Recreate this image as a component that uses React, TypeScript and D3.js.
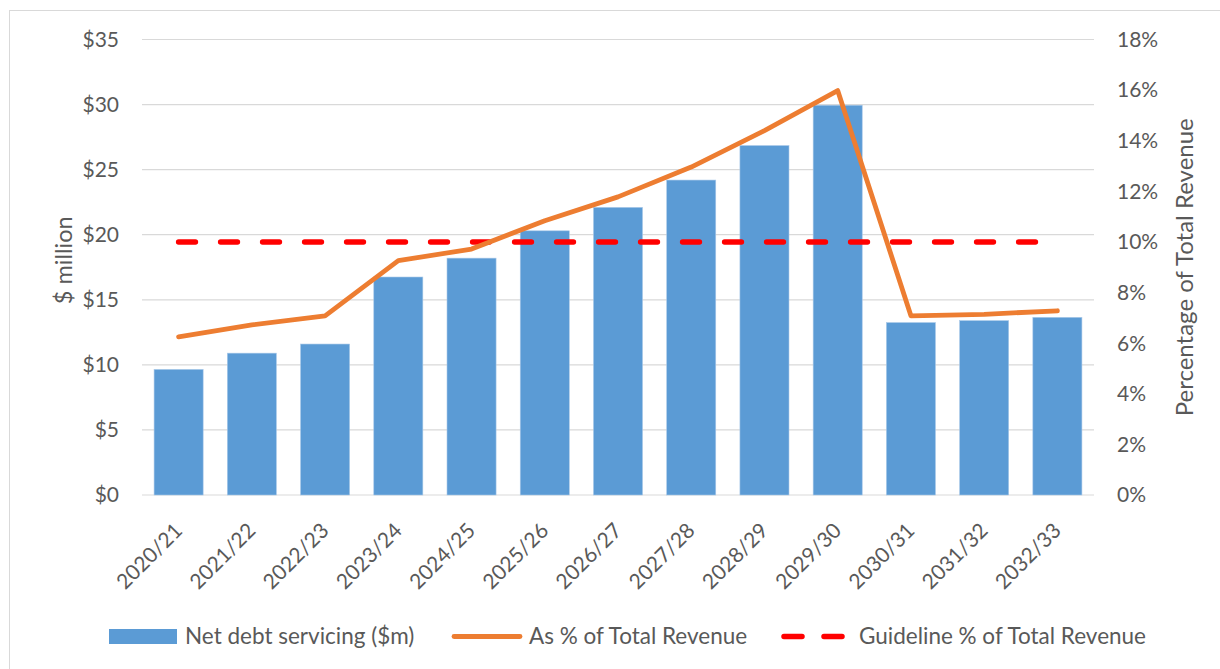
import React from "react";
import * as d3 from "d3";

const categories = ["2020/21","2021/22","2022/23","2023/24","2024/25","2025/26","2026/27","2027/28","2028/29","2029/30","2030/31","2031/32","2032/33"];
const netDebt = [9.65, 10.9, 11.6, 16.75, 18.2, 20.3, 22.1, 24.2, 26.85, 29.95, 13.25, 13.4, 13.65];
const pctRevenue = [6.25, 6.72, 7.08, 9.26, 9.72, 10.84, 11.78, 12.96, 14.4, 15.98, 7.08, 7.14, 7.28];
const guideline = [10,10,10,10,10,10,10,10,10,10,10,10,10];
const leftTicks = [0,5,10,15,20,25,30,35];
const rightTicks = [0,2,4,6,8,10,12,14,16,18];

const W = 1220, H = 669;
const plot = { left: 142, right: 1094, top: 39.5, bottom: 495 };
const FONT = "Lato, 'Open Sans', sans-serif";
const TXT = "#595959";

export default function App() {
  const x = d3.scaleBand<string>().domain(categories).range([plot.left, plot.right]).paddingInner(0.33).paddingOuter(0.165);
  const yL = d3.scaleLinear().domain([0, 35]).range([plot.bottom, plot.top]);
  const yR = d3.scaleLinear().domain([0, 18]).range([plot.bottom, plot.top]);
  const cx = (c: string) => (x(c) as number) + x.bandwidth() / 2;
  const line = d3.line<number>().x((_, i) => cx(categories[i])).y((d) => yR(d));

  return (
    <svg width={W} height={H} style={{ position: "absolute", left: 0, top: 0, display: "block" }} fontFamily={FONT}>
      <rect x={0} y={0} width={W} height={H} fill="#fff" />
      <rect x={9.5} y={10.5} width={W + 10} height={H} fill="none" stroke="#d9d9d9" strokeWidth={1} />
      {leftTicks.map((t) => (
        <line key={"g" + t} x1={plot.left} x2={plot.right} y1={yL(t)} y2={yL(t)} stroke="#d9d9d9" strokeWidth={1.2} />
      ))}
      {leftTicks.map((t) => (
        <text key={"l" + t} x={119} y={yL(t)} dy="0.35em" textAnchor="end" fontSize={21} fill={TXT}>{"$" + t}</text>
      ))}
      {rightTicks.map((t) => (
        <text key={"r" + t} x={1117} y={yR(t)} dy="0.35em" textAnchor="start" fontSize={21} fill={TXT}>{t + "%"}</text>
      ))}
      <text transform={`translate(72,${(plot.top + plot.bottom) / 2 - 7}) rotate(-90)`} textAnchor="middle" fontSize={23.5} fill={TXT}>$ million</text>
      <text transform={`translate(1193,${(plot.top + plot.bottom) / 2}) rotate(-90)`} textAnchor="middle" fontSize={24} fill={TXT}>Percentage of Total Revenue</text>
      {categories.map((c, i) => (
        <rect key={c} x={x(c)} y={yL(netDebt[i])} width={x.bandwidth()} height={plot.bottom - yL(netDebt[i])} fill="#5B9BD5" stroke="#a9c8e8" strokeWidth={0.6} />
      ))}
      {categories.map((c) => (
        <text key={"x" + c} transform={`translate(${cx(c) + 5},${532}) rotate(-45)`} textAnchor="end" fontSize={21} fill={TXT}>{c}</text>
      ))}
      <path d={line(guideline) || ""} fill="none" stroke="#FF0000" strokeWidth={5.5} strokeDasharray="16.8 25.2" strokeLinecap="round" />
      <path d={line(pctRevenue) || ""} fill="none" stroke="#ED7D31" strokeWidth={4.8} strokeLinejoin="round" strokeLinecap="round" />
      <g fontSize={22.5} fill={TXT}>
        <rect x={109} y={629} width={68} height={15} fill="#5B9BD5" />
        <text x={185} y={636.5} dy="0.35em">Net debt servicing ($m)</text>
        <line x1={454} x2={520} y1={636.5} y2={636.5} stroke="#ED7D31" strokeWidth={4.8} strokeLinecap="round" />
        <text x={529} y={636.5} dy="0.35em">As % of Total Revenue</text>
        <line x1={784} x2={848} y1={636.5} y2={636.5} stroke="#FF0000" strokeWidth={5.5} strokeDasharray="18 22" strokeLinecap="round" />
        <text x={859} y={636.5} dy="0.35em">Guideline % of Total Revenue</text>
      </g>
    </svg>
  );
}
